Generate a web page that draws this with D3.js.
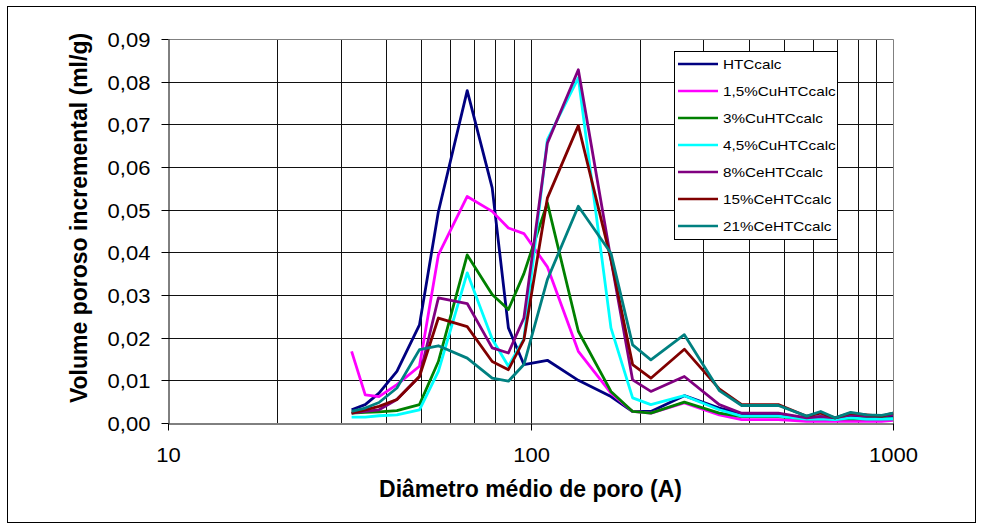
<!DOCTYPE html>
<html>
<head>
<meta charset="utf-8">
<script src="https://cdn.jsdelivr.net/npm/d3@7/dist/d3.min.js"></script>
<style>
  body { margin: 0; background: #fff; }
  text { font-family: Arial, "Liberation Sans", sans-serif; }
</style>
</head>
<body>
<div id="chart"></div>
<script>
// diâmetro médio de poro (A)
const diametros = [32.1, 35.0, 38.2, 42.8, 49.4, 55.7, 66.9, 78.4, 86.9, 95.9, 111.3, 135.5, 166.7, 191.3, 214.8, 265.7, 331.7, 382.4, 482.7, 578, 631.8, 691.8, 764, 846, 930.6, 1000];

// volume poroso incremental (ml/g) de cada amostra
const htc      = [0.0031, 0.0043, 0.0070, 0.0121, 0.0230, 0.0495, 0.0779, 0.0551, 0.0223, 0.0137, 0.0147, 0.0100, 0.0062, 0.0027, 0.0027, 0.0064, 0.0035, 0.0022, 0.0019, 0.0012, 0.0015, 0.0011, 0.0015, 0.0012, 0.0012, 0.0016];
const cu15     = [0.0168, 0.0066, 0.0062, 0.0090, 0.0133, 0.0394, 0.0531, 0.0496, 0.0457, 0.0444, 0.0366, 0.0168, 0.0070, 0.0027, 0.0023, 0.0047, 0.0019, 0.0008, 0.0008, 0.0004, 0.0004, 0.0004, 0.0004, 0.0004, 0.0004, 0.0006];
const cu3      = [0.0023, 0.0025, 0.0026, 0.0029, 0.0043, 0.0144, 0.0394, 0.0301, 0.0266, 0.0350, 0.0516, 0.0215, 0.0074, 0.0027, 0.0023, 0.0049, 0.0023, 0.0015, 0.0015, 0.0010, 0.0010, 0.0010, 0.0010, 0.0010, 0.0010, 0.0010];
const cu45     = [0.0014, 0.0014, 0.0017, 0.0019, 0.0031, 0.0121, 0.0352, 0.0197, 0.0133, 0.0197, 0.0664, 0.0809, 0.0223, 0.0059, 0.0043, 0.0064, 0.0031, 0.0016, 0.0016, 0.0009, 0.0010, 0.0008, 0.0012, 0.0009, 0.0009, 0.0010];
const ce8      = [0.0023, 0.0027, 0.0031, 0.0055, 0.0109, 0.0293, 0.0280, 0.0176, 0.0164, 0.0246, 0.0656, 0.0828, 0.0383, 0.0101, 0.0074, 0.0109, 0.0043, 0.0023, 0.0023, 0.0012, 0.0015, 0.0012, 0.0019, 0.0016, 0.0016, 0.0019];
const ce15     = [0.0023, 0.0031, 0.0039, 0.0055, 0.0109, 0.0246, 0.0226, 0.0144, 0.0125, 0.0195, 0.0527, 0.0697, 0.0383, 0.0137, 0.0105, 0.0173, 0.0080, 0.0043, 0.0043, 0.0016, 0.0023, 0.0012, 0.0023, 0.0019, 0.0016, 0.0023];
const ce21     = [0.0027, 0.0035, 0.0048, 0.0082, 0.0172, 0.0181, 0.0152, 0.0105, 0.0098, 0.0137, 0.0336, 0.0508, 0.0398, 0.0183, 0.0148, 0.0207, 0.0076, 0.0041, 0.0041, 0.0016, 0.0027, 0.0012, 0.0025, 0.0019, 0.0018, 0.0023];

const nomes = ["HTCcalc", "1,5%CuHTCcalc", "3%CuHTCcalc", "4,5%CuHTCcalc", "8%CeHTCcalc", "15%CeHTCcalc", "21%CeHTCcalc"];
const cores = ["#000080", "#ff00ff", "#008000", "#00ffff", "#800080", "#800000", "#008080"];
const valores = [htc, cu15, cu3, cu45, ce8, ce15, ce21];

const yTicks = [0, 0.01, 0.02, 0.03, 0.04, 0.05, 0.06, 0.07, 0.08, 0.09];
const xTicks = [10, 100, 1000];

const width = 983, height = 529;
const m = { left: 168, right: 893, top: 39, bottom: 423 };
const sx = 1.13; // texto do Excel ligeiramente esticado

const svg = d3.select("#chart").append("svg")
  .attr("width", width)
  .attr("height", height);

// moldura externa
svg.append("rect")
  .attr("x", 7.5).attr("y", 6.5)
  .attr("width", 968).attr("height", 516)
  .attr("fill", "#fff").attr("stroke", "#000");

const x = d3.scaleLog().domain([10, 1000]).range([m.left, m.right]);
const y = d3.scaleLinear().domain([0, 0.09]).range([m.bottom, m.top]);
const px = v => Math.round(v) + 0.5;

// grade
const grid = svg.append("g").attr("stroke", "#111").attr("stroke-width", 1);
grid.selectAll("line.v")
  .data(x.ticks().filter(d => d > 10 && d < 1000))
  .join("line")
  .attr("x1", d => px(x(d))).attr("x2", d => px(x(d)))
  .attr("y1", m.top).attr("y2", m.bottom);
grid.selectAll("line.h")
  .data(yTicks.filter(d => d > 0 && d < 0.09))
  .join("line")
  .attr("x1", m.left).attr("x2", m.right)
  .attr("y1", d => px(y(d))).attr("y2", d => px(y(d)));

// borda da área do gráfico
svg.append("path")
  .attr("d", `M${m.left + 0.5},${m.top + 0.5}H${m.right + 0.5}V${m.bottom + 0.5}`)
  .attr("fill", "none").attr("stroke", "#808080");

// séries
const line = d3.line()
  .x((d, i) => x(diametros[i]))
  .y(d => y(d));

svg.append("g")
  .selectAll("path")
  .data(valores)
  .join("path")
  .attr("fill", "none")
  .attr("stroke", (d, i) => cores[i])
  .attr("stroke-width", 2.8)
  .attr("stroke-linejoin", "round")
  .attr("d", line);

// eixo y
const fmt = d => d3.format(".2f")(d).replace(".", ",");
const yAxis = svg.append("g")
  .attr("transform", `translate(${m.left + 0.5},0)`)
  .call(d3.axisLeft(y).tickValues(yTicks).tickSize(7).tickSizeOuter(0).tickFormat(fmt));
yAxis.selectAll(".tick").attr("transform", d => `translate(0,${px(y(d))})`);
yAxis.select(".domain").attr("stroke", "#000");
yAxis.selectAll("text")
  .attr("x", 0).attr("dy", "0.36em")
  .attr("transform", `translate(-18,0) scale(${sx},1)`)
  .attr("font-size", "19.5px")
  .attr("fill", "#000");

// eixo x
const xAxis = svg.append("g")
  .attr("transform", `translate(0,${m.bottom + 0.5})`)
  .call(d3.axisBottom(x).tickValues(xTicks).tickSize(7).tickSizeOuter(0).tickFormat(d3.format("d")));
xAxis.select(".domain").attr("stroke", "#000");
xAxis.selectAll(".tick").attr("transform", d => `translate(${px(x(d))},0)`);
xAxis.selectAll("text")
  .attr("y", 0).attr("dy", 0)
  .attr("transform", `translate(0,38) scale(${sx},1)`)
  .attr("font-size", "19.5px")
  .attr("fill", "#000");

// títulos dos eixos
svg.append("text")
  .attr("x", (m.left + m.right) / 2)
  .attr("y", 497)
  .attr("text-anchor", "middle")
  .attr("font-size", "23px")
  .attr("font-weight", "bold")
  .text("Diâmetro médio de poro (A)");

svg.append("text")
  .attr("transform", "translate(87,218) rotate(-90)")
  .attr("text-anchor", "middle")
  .attr("font-size", "23px")
  .attr("font-weight", "bold")
  .text("Volume poroso incremental (ml/g)");

// legenda
const legend = svg.append("g");
legend.append("rect")
  .attr("x", 674.5).attr("y", 51.5)
  .attr("width", 163).attr("height", 188)
  .attr("fill", "#fff").attr("stroke", "#000");

const item = legend.selectAll("g.item")
  .data(nomes)
  .join("g")
  .attr("transform", (d, i) => `translate(0,${64 + i * 27})`);
item.append("line")
  .attr("x1", 678).attr("x2", 718)
  .attr("stroke", (d, i) => cores[i])
  .attr("stroke-width", 2.6);
item.append("text")
  .attr("transform", `translate(723,0) scale(${sx},1)`)
  .attr("dy", "0.36em")
  .attr("font-size", "13.5px")
  .text(d => d);
</script>
</body>
</html>
